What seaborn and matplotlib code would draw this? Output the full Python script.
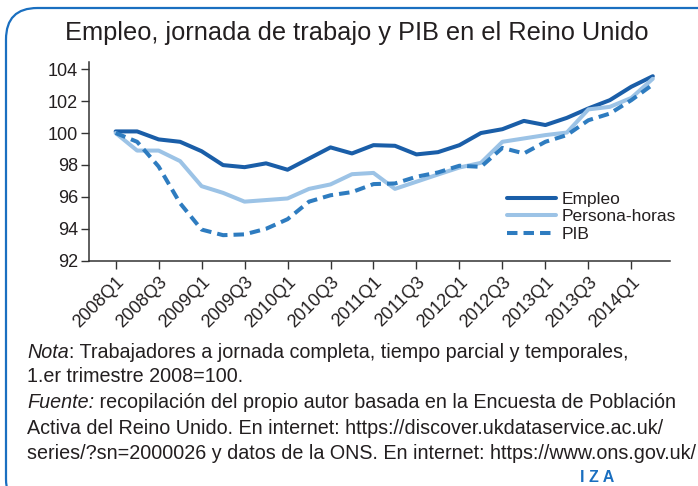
import matplotlib
matplotlib.use("Agg")
import matplotlib.pyplot as plt
import seaborn as sns
import pandas as pd
import numpy as np
from matplotlib.patches import FancyBboxPatch

quarters = ["2008Q1", "2008Q2", "2008Q3", "2008Q4", "2009Q1", "2009Q2", "2009Q3", "2009Q4",
            "2010Q1", "2010Q2", "2010Q3", "2010Q4", "2011Q1", "2011Q2", "2011Q3", "2011Q4",
            "2012Q1", "2012Q2", "2012Q3", "2012Q4", "2013Q1", "2013Q2", "2013Q3", "2013Q4",
            "2014Q1", "2014Q2"]
empleo = [100.1, 100.1, 99.6, 99.45, 98.86, 97.99, 97.86, 98.1, 97.7, 98.4, 99.1, 98.72,
          99.24, 99.2, 98.66, 98.8, 99.24, 100.0, 100.24, 100.76, 100.5, 100.95, 101.54,
          102.06, 102.9, 103.56]
persona_horas = [100.0, 98.9, 98.9, 98.24, 96.67, 96.25, 95.7, 95.8, 95.9, 96.5, 96.78, 97.42,
                 97.5, 96.5, 96.95, 97.4, 97.84, 98.13, 99.45, 99.66, 99.87, 100.03, 101.48,
                 101.64, 102.2, 103.4]
pib = [100.0, 99.45, 97.9, 95.6, 93.95, 93.6, 93.65, 94.0, 94.6, 95.7, 96.1, 96.3, 96.8,
       96.84, 97.26, 97.53, 97.95, 97.88, 99.07, 98.72, 99.45, 99.87, 100.8, 101.22, 102.06,
       103.04]
series_names = ["Empleo", "Persona-horas", "PIB"]
tick_labels = quarters[::2][:13]

title = "Empleo, jornada de trabajo y PIB en el Reino Unido"
note_lines = [
    ("Nota", ": Trabajadores a jornada completa, tiempo parcial y temporales,"),
    (None, "1.er trimestre 2008=100."),
    ("Fuente:", " recopilación del propio autor basada en la Encuesta de Población"),
    (None, "Activa del Reino Unido. En internet: https://discover.ukdataservice.ac.uk/"),
    (None, "series/?sn=2000026 y datos de la ONS. En internet: https://www.ons.gov.uk/"),
]

sns.set_theme(style="ticks")
plt.rcParams["font.family"] = ["Liberation Sans", "DejaVu Sans"]

W, H = 698, 486
TXT = "#231f20"
fig = plt.figure(figsize=(W / 100, H / 100), dpi=100)
fig.patch.set_facecolor("white")

# frame
frame = FancyBboxPatch((6 / W, -0.05), 1.2, 1.05 - 8 / H, boxstyle="round,pad=0,rounding_size=0.045",
                       transform=fig.transFigure, fill=False, edgecolor="#1a6fc0", linewidth=1.6,
                       mutation_aspect=W / H)
fig.patches.append(frame)

ax = fig.add_axes([89 / W, 1 - 260.7 / H, (670 - 89) / W, (260.7 - 62) / H])
x = np.arange(len(quarters))
df = pd.DataFrame({"x": np.tile(x, 3),
                   "valor": empleo + persona_horas + pib,
                   "serie": np.repeat(series_names, len(quarters))})
colors = {"Empleo": "#1a5ea8", "Persona-horas": "#9cc3e6", "PIB": "#2e7cc0"}
sns.lineplot(data=df, x="x", y="valor", hue="serie", style="serie", palette=colors,
             dashes={"Empleo": "", "Persona-horas": "", "PIB": (2.6, 1.5)},
             linewidth=2.9, ax=ax, legend=True)

ax.set_xlim(-1.24, 25.8)
ax.set_ylim(92, 104.45)
ax.set_yticks(np.arange(92, 105, 2))
ax.set_xticks(x[::2][:13])
ax.set_xticklabels(tick_labels, rotation=45, ha="right", rotation_mode="anchor", fontsize=13)
ax.tick_params(axis="y", labelsize=13, length=6, width=1, color="#333333", pad=2)
ax.tick_params(axis="x", length=6, width=1, color="#333333", pad=3)
ax.set_xlabel("")
ax.set_ylabel("")
for s in ["top", "right"]:
    ax.spines[s].set_visible(False)
for s in ["left", "bottom"]:
    ax.spines[s].set_color("#333333")
    ax.spines[s].set_linewidth(1.1)
for lab in ax.get_xticklabels() + ax.get_yticklabels():
    lab.set_color(TXT)

leg = ax.legend(loc="upper left", bbox_to_anchor=(507 / W, 1 - 192 / H), bbox_transform=fig.transFigure,
                frameon=False, fontsize=12.5, handlelength=2.8, handletextpad=0.35, labelspacing=0.12,
                borderpad=0, borderaxespad=0)
for t in leg.get_texts():
    t.set_color(TXT)

fig.text(357 / W, 1 - 33 / H, title, ha="center", va="center", fontsize=18.3, color=TXT)

ys = [352, 377, 403, 428, 453]
FS = 14.2
for (it, rest), yy in zip(note_lines, ys):
    if it is None:
        fig.text(27 / W, 1 - yy / H, rest, ha="left", va="center", fontsize=FS, color=TXT)
    else:
        t1 = fig.text(27 / W, 1 - yy / H, it, ha="left", va="center", fontsize=FS, style="italic",
                      color=TXT)
        fig.canvas.draw()
        bb = t1.get_window_extent()
        fig.text(bb.x1 / W, 1 - yy / H, rest, ha="left", va="center", fontsize=FS, color=TXT)

fig.text(597 / W, 1 - 477 / H, "I Z A", ha="center", va="center", fontsize=11.5, color="#1a6fc0",
         weight="bold")

fig.savefig("out.png", dpi=100)
